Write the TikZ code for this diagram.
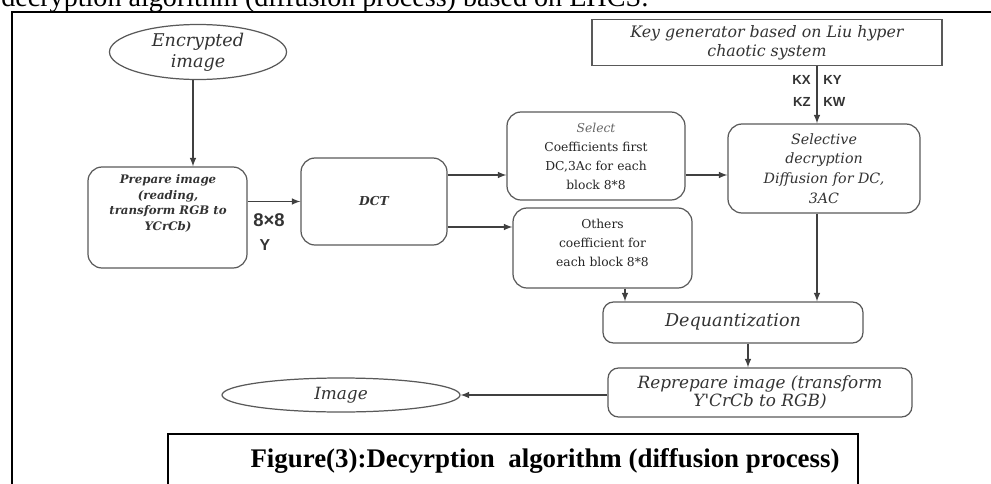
\documentclass[tikz,border=0pt]{standalone}
\usepackage{fontspec}
\setmainfont{Liberation Serif}
\newfontfamily\boxfont{DejaVu Serif}
\newfontfamily\keyfont{Liberation Sans}
\usetikzlibrary{shapes.geometric}

\tikzset{
    rbox/.style={draw=black!65, line width=0.7pt, rounded corners=8pt, align=center, text=black!80},
    sbox/.style={draw=black!65, line width=0.7pt, align=center, text=black!80},
    oval/.style={draw=black!65, line width=0.7pt, ellipse, align=center, text=black!80, inner sep=0pt},
    arr/.style={-latex, line width=0.7pt, draw=black!75},
    rmx/.style={font=\boxfont\fontsize{7}{11}\selectfont, text=black!85},
    keylab/.style={font=\keyfont\bfseries\fontsize{7.5}{9}\selectfont, text=black!80, inner sep=0pt}
}

\begin{document}
\begin{tikzpicture}[x=0.2mm, y=-0.2mm]
    \useasboundingbox (0,0) rectangle (991,484);
    \clip (0,0) rectangle (991,484);

    % Text line above the frame
    \node[anchor=base west, inner sep=0pt, font=\fontsize{16}{18}\selectfont] (head) at (1,6)
        {decryption algorithm (diffusion process) based on EHCS:};

    % Outer frame
    \draw[line width=0.8pt] (12,1000) -- (12,12) -- (1100,12);

    % Boxes
    \node[oval, font=\boxfont\itshape\fontsize{10}{12}\selectfont, minimum width=3.54cm, minimum height=1.1cm] (enc) at (198,52) {Encrypted\\image};
    \node[rbox, minimum width=3.18cm, minimum height=2.02cm] (prep) at (167.5,217.5) {};
    \node[align=center, text=black!80, anchor=north, inner sep=0pt,
        font=\boxfont\bfseries\itshape\fontsize{6.7}{9}\selectfont] (prep-text) at (168,174)
        {Prepare image\\(reading,\\transform RGB to\\YCrCb)};
    \node[rbox, font=\boxfont\bfseries\itshape\fontsize{7}{9}\selectfont, minimum width=2.92cm, minimum height=1.74cm] (dct) at (374,201.5) {DCT};
    \node[rbox, rmx, font=\boxfont\fontsize{7}{10.8}\selectfont, minimum width=3.56cm, minimum height=1.76cm] (sel) at (596,156)
        {\itshape\color{black!60}Select\\Coefficients first\\DC,3Ac for each\\block 8*8};
    \node[rbox, rmx, minimum width=3.58cm, minimum height=1.6cm] (oth) at (602.5,248)
        {Others\\coefficient for\\each block 8*8\\[-5pt]};
    \node[sbox, font=\boxfont\itshape\fontsize{9}{10.8}\selectfont, minimum width=7cm, minimum height=0.82cm] (key) at (767,42.5)
        {Key generator based on Liu hyper\\chaotic system};
    \node[rbox, font=\boxfont\itshape\fontsize{8.1}{11.3}\selectfont, minimum width=3.84cm, minimum height=1.78cm] (dec) at (824,168.5)
        {Selective\\decryption\\Diffusion for DC,\\3AC};
    \node[rbox, font=\boxfont\itshape\fontsize{10}{11}\selectfont, minimum width=5.2cm, minimum height=0.82cm,
        rounded corners=6pt] (deq) at (733,322.5) {Dequantization\\[-8pt]};
    \node[rbox, font=\boxfont\itshape\fontsize{9.6}{8.6}\selectfont, minimum width=6.08cm, minimum height=0.98cm,
        rounded corners=6pt] (rep) at (760,392.5) {Reprepare image (transform\\Y'CrCb to RGB)};
    \node[oval, font=\boxfont\itshape\fontsize{9.6}{11}\selectfont, minimum width=4.76cm, minimum height=0.68cm] (img) at (341,395) {Image};

    % Caption
    \node[draw, line width=1.3pt, minimum width=13.8cm, minimum height=2cm, anchor=north west] (cap) at (167,433) {};
    \node[font=\bfseries\fontsize{15.3}{18}\selectfont, anchor=base] (cap-text) at (545,467)
        {Figure(3):Decyrption\ \ algorithm (diffusion process)};

    % Helper coordinates for the connectors
    \coordinate (r1) at (0,175);
    \coordinate (r2) at (0,227);
    \coordinate (c0) at (193,0);
    \coordinate (c1) at (817,0);
    \coordinate (c2) at (625,0);
    \coordinate (c3) at (748,0);

    % Connectors
    \draw[arr] (enc.south -| c0) -- (prep.north -| c0);
    \draw[arr] (prep.east |- dct.west) -- (dct.west);
    \draw[arr] (dct.east |- r1) -- (sel.west |- r1);
    \draw[arr] (dct.east |- r2) -- (oth.west |- r2);
    \draw[arr] (sel.east |- r1) -- (dec.west |- r1);
    \draw[arr] (key.south -| c1) -- (dec.north -| c1);
    \draw[arr] (dec.south -| c1) -- (deq.north -| c1);
    \draw[arr] (oth.south -| c2) -- (deq.north -| c2);
    \draw[arr] (deq.south -| c3) -- (rep.north -| c3);
    \draw[arr] (rep.west |- img.east) -- (img.east);

    % Labels
    \node[keylab, font=\keyfont\bfseries\fontsize{10.5}{10}\selectfont] (size) at (269,220) {8×8};
    \node[keylab, font=\keyfont\bfseries\fontsize{9}{9}\selectfont] (ych) at (265,245) {Y};
    \node[keylab, anchor=east] (kx) at (811,80) {KX};
    \node[keylab, anchor=west] (ky) at (823,80) {KY};
    \node[keylab, anchor=east] (kz) at (811,102) {KZ};
    \node[keylab, anchor=west] (kw) at (823,102) {KW};
\end{tikzpicture}
\end{document}
